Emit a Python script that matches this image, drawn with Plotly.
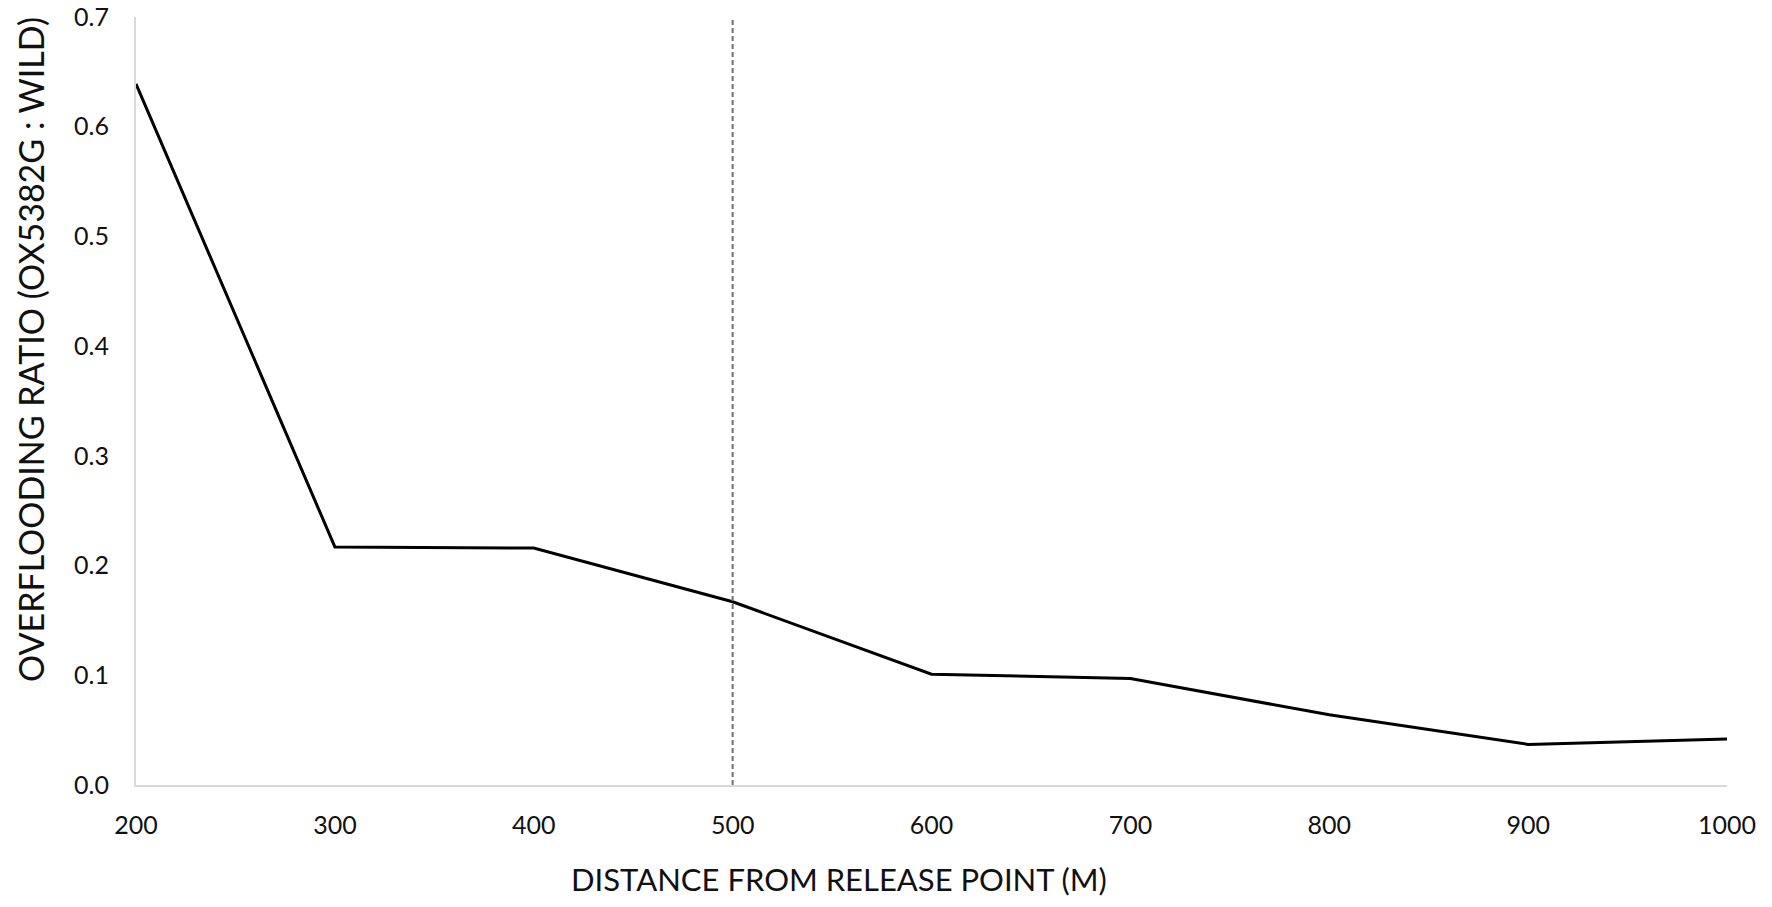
import plotly.graph_objects as go

# distance from release point (m) and overflooding ratio
distance = [200, 300, 400, 500, 600, 700, 800, 900, 1000]
ratio = [0.639, 0.217, 0.216, 0.167, 0.101, 0.097, 0.064, 0.037, 0.042]
marker_distance = 500

x_title = "DISTANCE FROM RELEASE POINT (M)"
y_title = "OVERFLOODING RATIO (OX5382G : WILD)"

font_family = "Lato, 'Open Sans', sans-serif"
text_color = "#111111"

fig = go.Figure()

fig.add_trace(go.Scatter(
    x=distance,
    y=ratio,
    mode="lines",
    line=dict(color="black", width=3),
    showlegend=False,
))

fig.add_vline(x=marker_distance, line=dict(color="#707070", width=2, dash="5px,3px"))

fig.update_xaxes(
    range=[200, 1000],
    tickvals=distance,
    showline=True,
    linecolor="#d9d9d9",
    linewidth=2,
    showgrid=False,
    zeroline=False,
    ticks="",
    automargin=False,
    ticklabeloverflow="allow",
    ticklabelstandoff=17,
    tickfont=dict(size=25, color=text_color, family=font_family),
)

fig.update_yaxes(
    range=[0, 0.7],
    dtick=0.1,
    tickformat=".1f",
    showline=True,
    linecolor="#d9d9d9",
    linewidth=2,
    showgrid=False,
    zeroline=False,
    ticks="",
    automargin=False,
    ticklabeloverflow="allow",
    ticklabelstandoff=20,
    tickfont=dict(size=25, color=text_color, family=font_family),
)

# axis titles sit off-centre in the original, so place them by hand
fig.add_annotation(
    text=x_title, xref="paper", yref="paper", x=0.442, y=-0.1224,
    xanchor="center", yanchor="middle", showarrow=False,
    font=dict(size=31, color=text_color, family=font_family),
)
fig.add_annotation(
    text=y_title, xref="paper", yref="paper", x=-0.0666, y=0.5664,
    xanchor="center", yanchor="middle", showarrow=False, textangle=-90,
    font=dict(size=34, color=text_color, family=font_family),
)

fig.update_layout(
    width=1772,
    height=907,
    plot_bgcolor="white",
    paper_bgcolor="white",
    margin=dict(l=136, r=45, t=17, b=122),
)

# drop the default body margin so the figure sits flush in the window
fig.write_html(
    "out.html",
    config={"displayModeBar": False},
    post_script="document.body.style.margin = '0';",
)
